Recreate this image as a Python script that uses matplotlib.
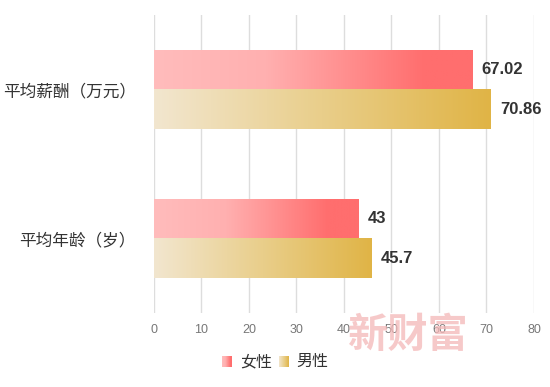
import matplotlib.pyplot as plt
import numpy as np
from matplotlib.colors import LinearSegmentedColormap

plt.rcParams['font.family'] = ['Noto Sans CJK SC', 'DejaVu Sans']

categories = ['平均薪酬（万元）', '平均年龄（岁）']
female = [67.02, 43]
male = [70.86, 45.7]
value_labels_f = ['67.02', '43']
value_labels_m = ['70.86', '45.7']
series_names = ['女性', '男性']
xticks = [0, 10, 20, 30, 40, 50, 60, 70, 80]

cmap_f = LinearSegmentedColormap.from_list(
    'f', [(0, '#FFBCBC'), (0.35, '#FFB0B0'), (0.85, '#FF6E6E'), (1, '#FF6E6E')])
cmap_m = LinearSegmentedColormap.from_list('m', ['#F2E6CF', '#E9CE8A', '#E0B446'])
grad = np.linspace(0, 1, 256).reshape(1, -1)

fig = plt.figure(figsize=(5.5, 3.87), dpi=100)
ax = fig.add_axes([0.28, 0.1912, 0.6909, 0.77])

h = 0.262
ypos = np.arange(len(categories))
for i in ypos:
    # female bar above, male bar below the category center
    ax.imshow(grad, cmap=cmap_f, aspect='auto', extent=[0, female[i], i, i - h], zorder=3)
    ax.imshow(grad, cmap=cmap_m, aspect='auto', extent=[0, male[i], i + h, i], zorder=3)
    ax.text(female[i] + 2, i - h / 2, value_labels_f[i], va='center', ha='left',
            fontsize=12, color='#333333', fontweight='bold', family='Liberation Sans')
    ax.text(male[i] + 2, i + h / 2, value_labels_m[i], va='center', ha='left',
            fontsize=12, color='#333333', fontweight='bold', family='Liberation Sans')

ax.set_xlim(0, 80)
ax.set_ylim(1.5, -0.5)
ax.set_xticks(xticks)
ax.set_xticklabels([str(t) for t in xticks], color='#777777', fontsize=9, family='Liberation Sans')
ax.set_yticks(ypos)
ax.set_yticklabels(categories, fontsize=12, color='#333333', fontweight='medium')
ax.tick_params(axis='both', length=0, pad=8)
ax.tick_params(axis='y', pad=13)
ax.grid(axis='x', color='#DDDDDD', linewidth=1, zorder=0)
ax.set_axisbelow(True)
for s in ax.spines.values():
    s.set_visible(False)

# watermark
fig.text(0.742, 0.132, '新财富', fontsize=29, color='#F4B8B8', alpha=0.75,
         ha='center', va='center', fontweight='bold')

# legend with gradient swatches
for k, (cm, name, x0) in enumerate([(cmap_f, series_names[0], 0.404), (cmap_m, series_names[1], 0.507)]):
    lax = fig.add_axes([x0, 0.052, 0.018, 0.027])
    lax.imshow(grad, cmap=cm, aspect='auto')
    lax.axis('off')
    fig.text(x0 + 0.032, 0.066, name, fontsize=11.5, color='#333333', va='center', ha='left',
             fontweight='medium')

fig.savefig('out.png', dpi=100)
